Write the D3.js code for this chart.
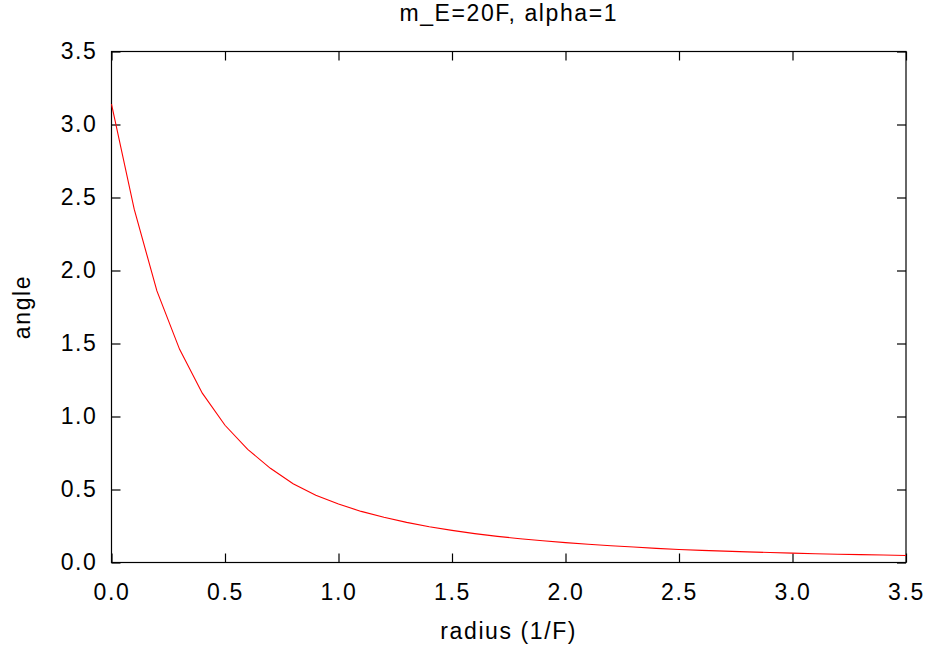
<!DOCTYPE html>
<html>
<head>
<meta charset="utf-8">
<script src="https://cdn.jsdelivr.net/npm/d3@7"></script>
<style>
  body { margin: 0; background: #fff; }
  svg text { font-family: "Liberation Sans", Arial, sans-serif; font-size: 23px; letter-spacing: 1.6px; fill: #000; }
  .axis path, .axis line { stroke: #000; stroke-width: 1.2; }
</style>
</head>
<body>
<svg id="chart" width="928" height="650"></svg>
<script>
// radius (1/F) sampled every 0.1
var radius = [0.0, 0.1, 0.2, 0.3, 0.4, 0.5, 0.6, 0.7, 0.8, 0.9,
              1.0, 1.1, 1.2, 1.3, 1.4, 1.5, 1.6, 1.7, 1.8, 1.9,
              2.0, 2.1, 2.2, 2.3, 2.4, 2.5, 2.6, 2.7, 2.8, 2.9,
              3.0, 3.1, 3.2, 3.3, 3.4, 3.5];
var angle = [3.14, 2.42, 1.86, 1.46, 1.16, 0.94, 0.775, 0.645, 0.54, 0.46,
             0.40, 0.35, 0.31, 0.275, 0.245, 0.22, 0.198, 0.179, 0.163, 0.149,
             0.136, 0.125, 0.115, 0.106, 0.097, 0.089, 0.083, 0.078, 0.073, 0.068,
             0.064, 0.060, 0.057, 0.054, 0.051, 0.048];
var xTicks = [0, 0.5, 1, 1.5, 2, 2.5, 3, 3.5];
var yTicks = [0, 0.5, 1, 1.5, 2, 2.5, 3, 3.5];

var svg = d3.select("#chart");
var margin = {top: 51.5, right: 22, bottom: 87.5, left: 111.5};
var W = 928, H = 650;

var x = d3.scaleLinear().domain([0, 3.5]).range([margin.left, W - margin.right]);
var y = d3.scaleLinear().domain([0, 3.5]).range([H - margin.bottom, margin.top]);
var fmt = d3.format(".1f");

// bottom / left with labels, ticks pointing inward
svg.append("g").attr("class", "axis")
  .attr("transform", "translate(0," + y(0) + ")")
  .call(d3.axisBottom(x).tickValues(xTicks).tickFormat(fmt).tickSizeInner(-9).tickSizeOuter(0).tickPadding(21))
  .call(g => g.selectAll("text").attr("dy", "0.71em"));

svg.append("g").attr("class", "axis")
  .attr("transform", "translate(" + x(0) + ",0)")
  .call(d3.axisLeft(y).tickValues(yTicks).tickFormat(fmt).tickSizeInner(-9).tickSizeOuter(0).tickPadding(14));

// mirrored ticks on top / right
svg.append("g").attr("class", "axis")
  .attr("transform", "translate(0," + y(3.5) + ")")
  .call(d3.axisTop(x).tickValues(xTicks).tickFormat("").tickSizeInner(-9).tickSizeOuter(0));

svg.append("g").attr("class", "axis")
  .attr("transform", "translate(" + x(3.5) + ",0)")
  .call(d3.axisRight(y).tickValues(yTicks).tickFormat("").tickSizeInner(-9).tickSizeOuter(0));

svg.selectAll(".axis .domain").remove();

// frame
svg.append("rect")
  .attr("x", x(0)).attr("y", y(3.5))
  .attr("width", x(3.5) - x(0)).attr("height", y(0) - y(3.5))
  .attr("fill", "none").attr("stroke", "#000").attr("stroke-width", 1.2);

// curve
var line = d3.line().x((d, i) => x(radius[i])).y(d => y(d));
svg.append("path")
  .datum(angle)
  .attr("d", line)
  .attr("fill", "none")
  .attr("stroke", "#ff0000")
  .attr("stroke-width", 1.1);

// labels
svg.append("text").attr("x", (x(0) + x(3.5)) / 2).attr("y", 21)
  .attr("text-anchor", "middle").text("m_E=20F, alpha=1");

svg.append("text").attr("x", (x(0) + x(3.5)) / 2).attr("y", 639)
  .attr("text-anchor", "middle").text("radius (1/F)");

svg.append("text")
  .attr("transform", "translate(30," + (y(0) + y(3.5)) / 2 + ") rotate(-90)")
  .attr("text-anchor", "middle").text("angle");
</script>
</body>
</html>
